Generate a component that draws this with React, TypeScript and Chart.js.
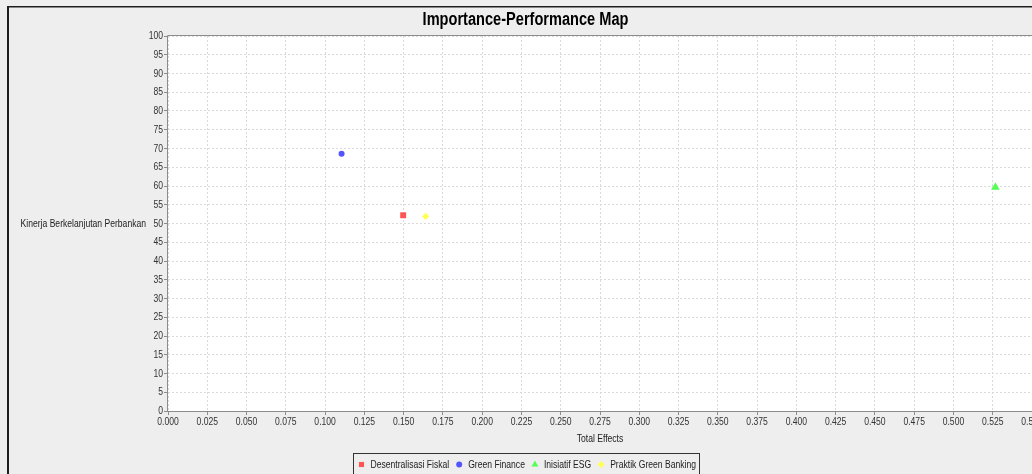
import React, { useEffect, useRef } from "react";
import { Chart, registerables } from "chart.js";
import { drawPoint } from "chart.js/helpers";

Chart.register(...registerables);

// ---- data ----
const seriesNames = ["Desentralisasi Fiskal", "Green Finance", "Inisiatif ESG", "Praktik Green Banking"];
const totalEffects = [0.1497, 0.1105, 0.5267, 0.164];
const performanceValues = [52.2, 68.6, 59.7, 51.9];
const seriesColors = ["#ff5555", "#5555ff", "#55ff55", "#ffff55"];
const seriesShapes = ["rect", "circle", "triangle", "rectRot"];
const seriesRadius = [4.2, 3, 5, 3.6];

const chartTitle = "Importance-Performance Map";
const xAxisTitle = "Total Effects";
const yAxisTitle = "Kinerja Berkelanjutan Perbankan";
const xMin = 0;
const xMax = 0.55;
const xStep = 0.025;
const yMin = 0;
const yMax = 100;
const yStep = 5;

const FONT = '"Liberation Sans", Arial, sans-serif';
const NARROW = 0.78;

function condText(ctx: CanvasRenderingContext2D, text: string, x: number, y: number, align: CanvasTextAlign, sx: number) {
  ctx.save();
  ctx.translate(x, y);
  ctx.scale(sx, 1);
  ctx.textAlign = align;
  ctx.fillText(text, 0, 0);
  ctx.restore();
}

const decorPlugin = {
  id: "decor",
  beforeDraw(chart: any) {
    const { ctx, chartArea: a } = chart;
    ctx.save();
    ctx.fillStyle = "#eeeeee";
    ctx.fillRect(0, 0, chart.width, chart.height);
    ctx.fillStyle = "#ffffff";
    ctx.fillRect(a.left, a.top, a.right - a.left, a.bottom - a.top);
    ctx.restore();
  },
  afterDraw(chart: any) {
    const { ctx, chartArea: a } = chart;
    const xs = chart.scales.x;
    const ys = chart.scales.y;
    ctx.save();
    // plot border
    ctx.strokeStyle = "#8c8c8c";
    ctx.lineWidth = 1;
    ctx.beginPath();
    ctx.moveTo(a.left - 0.5, a.top - 0.5);
    ctx.lineTo(a.right + 0.5, a.top - 0.5);
    ctx.moveTo(a.left - 0.5, a.top - 0.5);
    ctx.lineTo(a.left - 0.5, a.bottom + 0.5);
    ctx.lineTo(a.right + 0.5, a.bottom + 0.5);
    ctx.stroke();

    // outer frame
    ctx.fillStyle = "#1e1e1e";
    ctx.fillRect(7, 6, 2, chart.height);
    ctx.fillRect(7, 6, chart.width, 1.5);

    // title
    ctx.fillStyle = "#000";
    ctx.font = `bold 18px ${FONT}`;
    ctx.textBaseline = "alphabetic";
    condText(ctx, chartTitle, 525.5, 25, "center", 0.81);

    // tick labels
    ctx.fillStyle = "#333";
    ctx.font = `11px ${FONT}`;
    ctx.textBaseline = "middle";
    xs.ticks.forEach((t: any) => {
      condText(ctx, Number(t.value).toFixed(3), xs.getPixelForValue(t.value), 421.5, "center", NARROW);
    });
    ys.ticks.forEach((t: any) => {
      condText(ctx, String(t.value), 163, ys.getPixelForValue(t.value), "right", NARROW);
    });

    // axis titles
    ctx.fillStyle = "#222";
    condText(ctx, xAxisTitle, (a.left + a.right) / 2, 439, "center", NARROW);
    condText(ctx, yAxisTitle, 146, ys.getPixelForValue((yMin + yMax) / 2), "right", NARROW);

    // legend
    const widths = seriesNames.map((n) => ctx.measureText(n).width * NARROW);
    const lead = 8.5;
    const toText = 9;
    const toNext = 10;
    const tail = 3;
    const total = lead + widths.reduce((s, w) => s + toText + w, 0) + toNext * (seriesNames.length - 1) + tail;
    const left = Math.round(525.5 - total / 2);
    const ly = 464.5;
    ctx.strokeStyle = "#333";
    ctx.lineWidth = 1;
    ctx.strokeRect(left + 0.5, 453.5, Math.round(total), 26);
    let mx = left + lead;
    seriesNames.forEach((name, i) => {
      ctx.fillStyle = seriesColors[i];
      ctx.strokeStyle = seriesColors[i];
      drawPoint(ctx, { pointStyle: seriesShapes[i] as any, radius: seriesShapes[i] === "triangle" ? 4 : seriesShapes[i] === "circle" ? 3 : 3.6, rotation: 0, borderWidth: 0 } as any, mx, ly);
      ctx.fillStyle = "#222";
      condText(ctx, name, mx + toText, ly, "left", NARROW);
      mx += toText + widths[i] + toNext;
    });
    ctx.restore();
  },
};

export default function App() {
  const ref = useRef<HTMLCanvasElement | null>(null);
  useEffect(() => {
    if (!ref.current) return;
    const datasets = seriesNames.map((name, i) => ({
      label: name,
      data: [{ x: totalEffects[i], y: performanceValues[i] }],
      pointStyle: seriesShapes[i] as any,
      pointRadius: seriesRadius[i],
      pointBackgroundColor: seriesColors[i],
      pointBorderColor: seriesColors[i],
      pointBorderWidth: 0,
      showLine: false,
    }));
    const chart = new Chart(ref.current, {
      type: "scatter",
      data: { datasets },
      options: {
        animation: false,
        responsive: false,
        maintainAspectRatio: false,
        layout: { padding: { top: 36, right: 16, bottom: 0, left: 0 } },
        plugins: {
          legend: { display: false },
          title: { display: false },
          tooltip: { enabled: false },
        },
        scales: {
          x: {
            type: "linear",
            min: xMin,
            max: xMax,
            afterFit: (s: any) => {
              s.height = 63;
            },
            ticks: {
              display: false,
              stepSize: xStep,
              autoSkip: false,
              maxRotation: 0,
            },
            grid: {
              color: "#dadada",
              lineWidth: 1,
              tickLength: 4,
              tickColor: "#8c8c8c",
              tickBorderDash: [],
            },
            border: { display: false, dash: [2, 2] },
          },
          y: {
            type: "linear",
            min: yMin,
            max: yMax,
            afterFit: (s: any) => {
              s.width = 168;
            },
            ticks: {
              display: false,
              stepSize: yStep,
            },
            grid: {
              color: "#dadada",
              lineWidth: 1,
              tickLength: 4,
              tickColor: "#8c8c8c",
              tickBorderDash: [],
            },
            border: { display: false, dash: [2, 2] },
          },
        },
      },
      plugins: [decorPlugin],
    });
    return () => chart.destroy();
  }, []);
  return (
    <div style={{ position: "fixed", left: 0, top: 0, width: 1032, height: 474, overflow: "hidden", background: "#eeeeee" }}>
      <canvas ref={ref} width={1048} height={474} style={{ display: "block", width: 1048, height: 474 }} />
    </div>
  );
}
